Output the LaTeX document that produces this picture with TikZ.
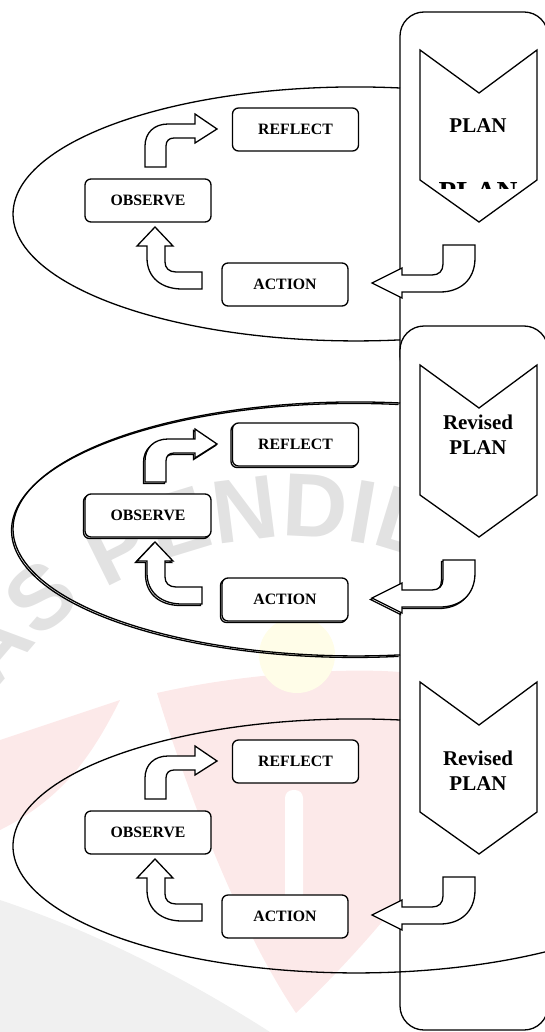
\documentclass[tikz,border=0pt]{standalone}
\usepackage{fontspec}
\setmainfont{Liberation Serif}
\newfontfamily\wmfont{Liberation Sans}
\usetikzlibrary{shadows,decorations.text}
\definecolor{wmgray}{RGB}{226,226,226}
\definecolor{wmsun}{RGB}{255,253,232}
\definecolor{wmpink}{RGB}{252,233,233}
\definecolor{wmshade}{RGB}{240,240,240}
\tikzset{
  stagebox/.style={draw,fill=white,rounded corners=6pt,minimum width=126pt,minimum height=43pt,inner sep=0pt,font=\fontsize{15.8}{19}\selectfont\bfseries},
  blockarrow/.style={draw,fill=white},
  shd/.style={copy shadow={shadow xshift=-1.5pt,shadow yshift=-1.5pt}},
  noshd/.style={},
  plantext/.style={align=center,inner sep=0pt,font=\fontsize{21}{25}\selectfont\bfseries},
}

\begin{document}
\begin{tikzpicture}[x=1pt,y=-1pt,line width=1.3pt]
\useasboundingbox (0,0) rectangle (545,1032);
\fill[wmshade] (0,900) .. controls (120,940) and (220,1000) .. (270,1032) -- (0,1032) -- cycle;
\fill[wmpink] (157,693) .. controls (250,672) and (350,668) .. (400,672) -- (400,900) .. controls (360,950) and (320,990) .. (296,1013) .. controls (240,930) and (190,800) .. (157,693) -- cycle;
\fill[wmpink] (0,740) -- (120,700) .. controls (90,760) and (60,800) .. (0,830) -- cycle;
\fill[white,rounded corners=8pt] (285,790) rectangle (303,935);
\fill[wmsun] (297,655) circle[radius=38pt];
\path[decorate,decoration={text along path,text align=left,
  text={|\wmfont\bfseries\fontsize{90}{90}\selectfont\color{wmgray}|AS PENDIDIKAN}}]
  (295,904) ++(144.5:367pt) arc[start angle=144.5,end angle=20,radius=367pt];
\draw[fill=white,rounded corners=24pt] (400,12) rectangle (548,380);
\draw[fill=white,rounded corners=24pt] (400,326) rectangle (548,1030);
\draw[shift={(-1.5,1.5)}] (400,403) arc[start angle=82.63,end angle=277.37,x radius=343pt,y radius=127pt];
\foreach \dy/\shd/\txt/\ty/\ea [count=\i] in {0/noshd/PLAN/126/277.37,315/shd/{Revised\\PLAN}/119.5/277.37,632/noshd/{Revised\\PLAN}/138.5/310}{
  \begin{scope}[shift={(0,\dy)}]
    \draw (400,88) arc[start angle=82.63,end angle=\ea,x radius=343pt,y radius=127pt];
    \draw[fill=white] (420,50) -- (479,93) -- (537,50) -- (537,180) -- (479,222) -- (420,180) -- cycle;
    \node[plantext] (plan\i) at (478,\ty) {\txt};
    \node[stagebox,\shd] (reflect\i) at (295.5,129.5) {REFLECT};
    \node[stagebox,\shd] (observe\i) at (148,200.5) {OBSERVE};
    \node[stagebox,\shd] (action\i) at (285,284.5) {ACTION};
    \draw[blockarrow,\shd] (145,167) -- (145,146) .. controls (145,133) and (154,124) .. (168,124) -- (195,124) -- (195,114) -- (217,129) -- (195,143) -- (195,138) -- (174,138) .. controls (169,138) and (166,141) .. (166,146) -- (166,167) -- cycle;
    \draw[blockarrow,\shd] (155,227) -- (173,246) -- (165,246) -- (165,262) .. controls (165,268) and (169,272) .. (176,272) -- (202,272) -- (202,289) -- (182,289) .. controls (162,289) and (147,278) .. (147,258) -- (147,246) -- (137,246) -- cycle;
    \draw[blockarrow,\shd] (443,245) -- (475,245) -- (475,258) .. controls (475,280) and (460,292) .. (440,292) -- (402,292) -- (402,298) -- (372,283) -- (402,268) -- (402,275) -- (432,275) .. controls (439,275) and (443,271) .. (443,264) -- cycle;
  \end{scope}
}
\begin{scope}
  \clip (420,181) -- (537,181) -- (537,189) -- (420,189) -- cycle;
  \node[inner sep=0pt,font=\fontsize{29}{30}\selectfont\bfseries] (planghost) at (478,192) {PLAN};
\end{scope}
\end{tikzpicture}
\end{document}
